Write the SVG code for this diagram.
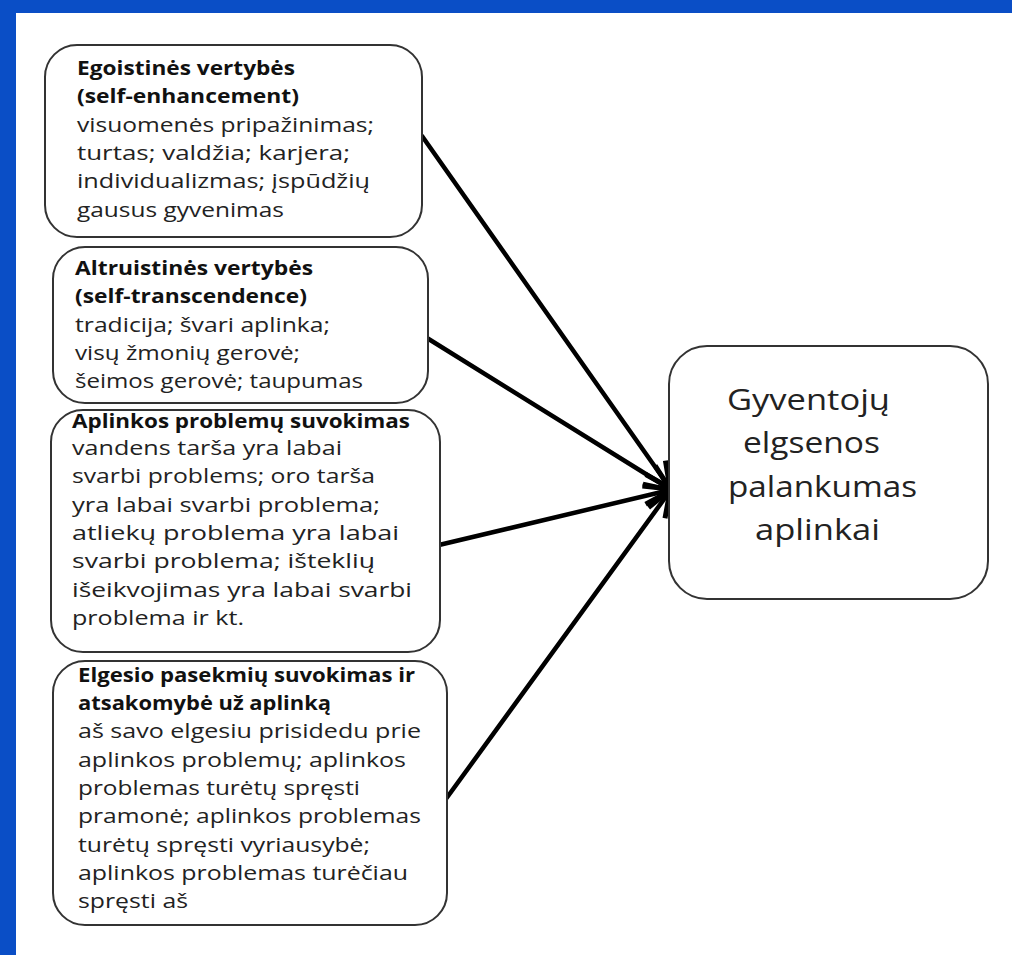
<svg xmlns="http://www.w3.org/2000/svg" width="1012" height="955" viewBox="0 0 1012 955">
<style>
.box{fill:#fff;stroke:#333;stroke-width:2}
.h{font-family:"Open Sans","Noto Sans",sans-serif;font-weight:bold;font-size:20px;fill:#111}
.b{font-family:"Open Sans","Noto Sans",sans-serif;font-size:20.5px;fill:#222}
.big{font-family:"Open Sans","Noto Sans",sans-serif;font-size:30px;fill:#222}
.conn{stroke:#000;stroke-width:4.5;fill:none;stroke-linecap:round}
</style>
<defs>
<marker id="ah" markerUnits="userSpaceOnUse" markerWidth="40" markerHeight="40" refX="30" refY="20" orient="auto" viewBox="0 0 40 40">
<path d="M5,8 L30,20 L5,32" fill="none" stroke="#000" stroke-width="5" stroke-linejoin="miter"/>
</marker>
</defs>
<rect x="0" y="0" width="1012" height="955" fill="#fff"/>
<rect x="0" y="0" width="1012" height="13" fill="#0a4ec6"/>
<rect x="0" y="0" width="16" height="955" fill="#0a4ec6"/>

<g id="connectors">
<line class="conn" x1="422" y1="136" x2="670" y2="488" marker-end="url(#ah)"/>
<line class="conn" x1="427" y1="338" x2="670" y2="489" marker-end="url(#ah)"/>
<line class="conn" x1="439" y1="545" x2="670" y2="490" marker-end="url(#ah)"/>
<line class="conn" x1="443" y1="803" x2="670" y2="491" marker-end="url(#ah)"/>
</g>

<g id="node-egoistines">
<rect class="box" x="45" y="45" width="377" height="192" rx="32"/>
<text class="h" x="77" y="75" textLength="218" lengthAdjust="spacingAndGlyphs">Egoistinės vertybės</text>
<text class="h" x="77" y="103" textLength="222" lengthAdjust="spacingAndGlyphs">(self-enhancement)</text>
<text class="b" x="77" y="132" textLength="297" lengthAdjust="spacingAndGlyphs">visuomenės pripažinimas;</text>
<text class="b" x="77" y="160" textLength="273" lengthAdjust="spacingAndGlyphs">turtas; valdžia; karjera;</text>
<text class="b" x="77" y="188" textLength="293" lengthAdjust="spacingAndGlyphs">individualizmas; įspūdžių</text>
<text class="b" x="77" y="217" textLength="207" lengthAdjust="spacingAndGlyphs">gausus gyvenimas</text>
</g>

<g id="node-altruistines">
<rect class="box" x="53" y="247" width="375" height="156" rx="32"/>
<text class="h" x="75" y="275" textLength="238" lengthAdjust="spacingAndGlyphs">Altruistinės vertybės</text>
<text class="h" x="75" y="303" textLength="232" lengthAdjust="spacingAndGlyphs">(self-transcendence)</text>
<text class="b" x="75" y="332" textLength="255" lengthAdjust="spacingAndGlyphs">tradicija; švari aplinka;</text>
<text class="b" x="75" y="360" textLength="225" lengthAdjust="spacingAndGlyphs">visų žmonių gerovė;</text>
<text class="b" x="75" y="388" textLength="288" lengthAdjust="spacingAndGlyphs">šeimos gerovė; taupumas</text>
</g>

<g id="node-aplinkos">
<rect class="box" x="51" y="410" width="389" height="242" rx="32"/>
<text class="h" x="72" y="428" textLength="338" lengthAdjust="spacingAndGlyphs">Aplinkos problemų suvokimas</text>
<text class="b" x="72" y="455" textLength="270" lengthAdjust="spacingAndGlyphs">vandens tarša yra labai</text>
<text class="b" x="72" y="483" textLength="303" lengthAdjust="spacingAndGlyphs">svarbi problems; oro tarša</text>
<text class="b" x="72" y="512" textLength="308" lengthAdjust="spacingAndGlyphs">yra labai svarbi problema;</text>
<text class="b" x="72" y="540" textLength="327" lengthAdjust="spacingAndGlyphs">atliekų problema yra labai</text>
<text class="b" x="72" y="568" textLength="303" lengthAdjust="spacingAndGlyphs">svarbi problema; išteklių</text>
<text class="b" x="72" y="597" textLength="340" lengthAdjust="spacingAndGlyphs">išeikvojimas yra labai svarbi</text>
<text class="b" x="72" y="625" textLength="172" lengthAdjust="spacingAndGlyphs">problema ir kt.</text>
</g>

<g id="node-elgesio">
<rect class="box" x="53" y="661" width="394" height="264" rx="32"/>
<text class="h" x="78" y="682" textLength="337" lengthAdjust="spacingAndGlyphs">Elgesio pasekmių suvokimas ir</text>
<text class="h" x="78" y="710" textLength="253" lengthAdjust="spacingAndGlyphs">atsakomybė už aplinką</text>
<text class="b" x="78" y="738" textLength="343" lengthAdjust="spacingAndGlyphs">aš savo elgesiu prisidedu prie</text>
<text class="b" x="78" y="767" textLength="328" lengthAdjust="spacingAndGlyphs">aplinkos problemų; aplinkos</text>
<text class="b" x="78" y="795" textLength="282" lengthAdjust="spacingAndGlyphs">problemas turėtų spręsti</text>
<text class="b" x="78" y="823" textLength="343" lengthAdjust="spacingAndGlyphs">pramonė; aplinkos problemas</text>
<text class="b" x="78" y="852" textLength="292" lengthAdjust="spacingAndGlyphs">turėtų spręsti vyriausybė;</text>
<text class="b" x="78" y="880" textLength="330" lengthAdjust="spacingAndGlyphs">aplinkos problemas turėčiau</text>
<text class="b" x="78" y="908" textLength="110" lengthAdjust="spacingAndGlyphs">spręsti aš</text>
</g>

<g id="node-gyventoju">
<rect class="box" x="669" y="346" width="319" height="253" rx="38"/>
<text class="big" x="727" y="410" textLength="163" lengthAdjust="spacingAndGlyphs">Gyventojų</text>
<text class="big" x="743" y="453" textLength="137" lengthAdjust="spacingAndGlyphs">elgsenos</text>
<text class="big" x="728" y="497" textLength="189" lengthAdjust="spacingAndGlyphs">palankumas</text>
<text class="big" x="755" y="540" textLength="125" lengthAdjust="spacingAndGlyphs">aplinkai</text>
</g>
</svg>
